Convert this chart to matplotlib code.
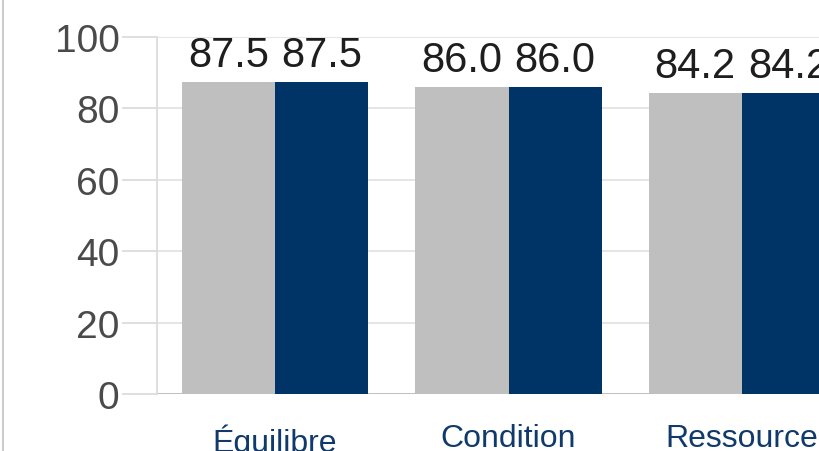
import matplotlib
matplotlib.use("Agg")
import matplotlib.pyplot as plt
import numpy as np
from matplotlib.lines import Line2D

categories = ["Équilibre", "Condition", "Ressource"]
series_a = [87.5, 86.0, 84.2]
series_b = [87.5, 86.0, 84.2]
yticks = [0, 20, 40, 60, 80, 100]

plt.rcParams['font.family'] = ['Liberation Sans', 'DejaVu Sans']

W, H = 819, 452
fig = plt.figure(figsize=(W / 100, H / 100), dpi=100)
left_px, bottom_px, top_px = 157, 395, 38
ax = fig.add_axes([left_px / W, (H - bottom_px) / H, (W - left_px) / W, (bottom_px - top_px) / H])

x = np.arange(len(categories))
bw = 0.4
gray = "#bfbfbf"
navy = "#003366"
ax.bar(x - bw / 2, series_a, width=bw, color=gray, zorder=2)
ax.bar(x + bw / 2, series_b, width=bw, color=navy, zorder=2)

for xi, va, vb in zip(x, series_a, series_b):
    ax.annotate(f"{va:.1f}", (xi - bw / 2, va), xytext=(0, 5), textcoords="offset points",
                ha="center", va="bottom", fontsize=30, color="#1e1e1e", annotation_clip=False)
    ax.annotate(f"{vb:.1f}", (xi + bw / 2, vb), xytext=(0, 5), textcoords="offset points",
                ha="center", va="bottom", fontsize=30, color="#1e1e1e", annotation_clip=False)

ax.set_xlim(-0.506, 2.33)
ax.set_ylim(0, 100)
ax.set_yticks(yticks)
ax.set_yticklabels([str(t) for t in yticks])
ax.set_xticks(x)
ax.set_xticklabels(categories)

ax.yaxis.grid(True, color="#e3e3e3", linewidth=1.3, zorder=0)
ax.set_axisbelow(True)
for s in ["top", "right", "bottom"]:
    ax.spines[s].set_visible(False)
ax.spines["left"].set_color("#dcdcdc")
ax.spines["left"].set_linewidth(1.3)

ax.tick_params(axis="y", length=25, width=1.3, color="#dcdcdc", pad=2,
               labelsize=28, labelcolor="#4a4a4a")
ax.tick_params(axis="x", length=0, pad=21, labelsize=23, labelcolor="#0f3a6b")

ax.axhline(0, color="#bdbdbd", linewidth=1.3, zorder=1)

fig.add_artist(Line2D([3 / W, 3 / W], [0, 1], transform=fig.transFigure, color="#cccccc", linewidth=1.5))

fig.savefig("out.png", dpi=100)
